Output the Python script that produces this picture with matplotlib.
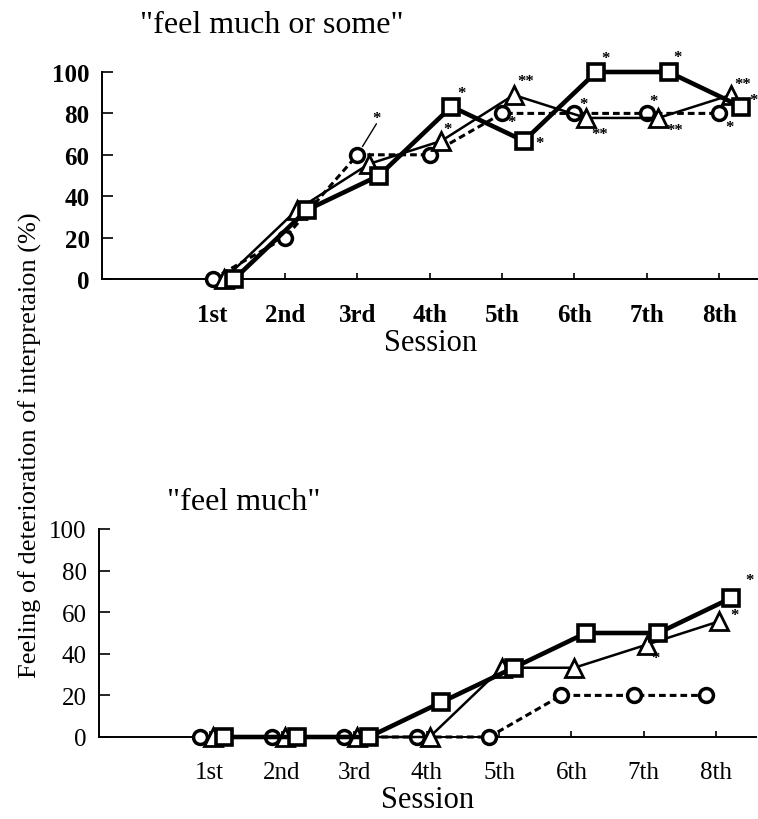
#!/usr/bin/python
# feeling of deterioration of interpretation by session -- two panel line chart

import matplotlib
matplotlib.use('Agg')
import matplotlib.pyplot as plt
import numpy as np

plt.rcParams['font.family'] = ['Liberation Serif', 'DejaVu Serif']

# ----------------------------------------------------------------------
# data (percent)
# ----------------------------------------------------------------------
sessions = ['1st', '2nd', '3rd', '4th', '5th', '6th', '7th', '8th']

# "feel much or some"
some_circle = [0, 20, 60, 60, 80, 80, 80, 80]
some_triangle = [0, 33.3, 55.6, 66.7, 88.9, 77.8, 77.8, 88.9]
some_square = [0, 33.3, 50, 83.3, 66.7, 100, 100, 83.3]

# "feel much"
much_circle = [0, 0, 0, 0, 0, 20, 20, 20]
much_triangle = [0, 0, 0, 0, 33.3, 33.3, 44.4, 55.6]
much_square = [0, 0, 0, 16.7, 33.3, 50, 50, 66.7]

# significance marks
some_circle_sig = ['', '', '*', '', '*', '*', '*', '*']
some_triangle_sig = ['', '', '', '*', '**', '**', '**', '**']
some_square_sig = ['', '', '', '*', '*', '*', '*', '*']
much_circle_sig = ['', '', '', '', '', '', '', '']
much_triangle_sig = ['', '', '', '', '', '', '*', '*']
much_square_sig = ['', '', '', '', '', '', '', '*']

# ----------------------------------------------------------------------
# layout
# ----------------------------------------------------------------------
# offsets (pixels) of the significance marks from their marker
SIGOFF = {
    ('some', 'circle'): {2: (19, 37), 4: (9, -9), 5: (9, 9), 6: (7, 12), 7: (10, -14)},
    ('some', 'triangle'): {3: (6, 12), 4: (12, 14), 5: (14, -16), 6: (16, -12), 7: (12, 11)},
    ('some', 'square'): {3: (10, 14), 4: (16, -2), 5: (9, 14), 6: (9, 15), 7: (13, 7)},
    ('much', 'circle'): {},
    ('much', 'triangle'): {6: (9, -13), 7: (15, 6)},
    ('much', 'square'): {7: (19, 18)},
}

STYLE = {
    'circle': dict(marker='o', ms=10, mew=2.5, lw=2.2, ls=(0, (2.2, 1.3)), zorder=3),
    'triangle': dict(marker='^', ms=13, mew=2.0, lw=1.8, ls='-', zorder=4),
    'square': dict(marker='s', ms=11, mew=2.6, lw=3.3, ls='-', zorder=5),
}

W, H = 758, 820


#----------------------------------------------------------------------
def drawpanel(ax, key, series, offsets, tickweight):
#----------------------------------------------------------------------
    x = np.arange(1, len(sessions) + 1)
    for name, vals, sig in series:
        xs = x + offsets[name]
        ax.plot(xs, vals, color='black', mfc='white', mec='black',
                clip_on=False, **STYLE[name])
        for i, s in enumerate(sig):
            if not s:
                continue
            dx, dy = SIGOFF[(key, name)][i]
            if key == 'some' and name == 'circle' and i == 2:
                # leader line from the marker to its star
                ax.annotate('', xy=(xs[i], vals[i]), xytext=(dx, dy - 6),
                            textcoords='offset pixels', xycoords='data',
                            arrowprops=dict(arrowstyle='-', lw=1.0, color='black',
                                            shrinkA=0, shrinkB=7),
                            annotation_clip=False)
            ax.annotate(s, xy=(xs[i], vals[i]), xytext=(dx, dy),
                        textcoords='offset pixels', ha='center', va='center',
                        fontsize=12, fontweight='bold', zorder=10,
                        annotation_clip=False)

    ax.set_ylim(0, 100)
    ax.set_xlim(-0.53, 8.55)
    ax.set_yticks(range(0, 101, 20))
    ax.set_xticks(x)
    ax.set_xticklabels(sessions, fontsize=18, fontweight=tickweight)
    for lab in ax.get_yticklabels():
        lab.set_fontsize(18)
        lab.set_fontweight(tickweight)
    ax.tick_params(axis='x', direction='in', length=4, width=1.2, pad=17)
    ax.tick_params(axis='y', direction='in', length=8, width=1.2, pad=9)
    ax.spines['top'].set_visible(False)
    ax.spines['right'].set_visible(False)
    for sp in ('left', 'bottom'):
        ax.spines[sp].set_linewidth(1.4)
    ax.set_xlabel('Session', fontsize=22, labelpad=2)


#----------------------------------------------------------------------
def main():
#----------------------------------------------------------------------
    fig = plt.figure(figsize=(W / 100, H / 100), dpi=100)

    # top panel: "feel much or some"
    ax1 = fig.add_axes([102 / W, 1 - 280 / H, 657 / W, 207 / H])
    drawpanel(ax1, 'some',
              [('circle', some_circle, some_circle_sig),
               ('triangle', some_triangle, some_triangle_sig),
               ('square', some_square, some_square_sig)],
              {'circle': 0.0, 'triangle': 0.16, 'square': 0.3}, 'bold')

    # bottom panel: "feel much"
    ax2 = fig.add_axes([99 / W, 1 - 738 / H, 657 / W, 208 / H])
    drawpanel(ax2, 'much',
              [('circle', much_circle, much_circle_sig),
               ('triangle', much_triangle, much_triangle_sig),
               ('square', much_square, much_square_sig)],
              {'circle': -0.14, 'triangle': 0.04, 'square': 0.2}, 'normal')

    # titles and shared y label
    fig.text(140 / W, 1 - 33 / H, '"feel much or some"', fontsize=23, va='baseline')
    fig.text(167 / W, 1 - 510 / H, '"feel much"', fontsize=23, va='baseline')
    fig.text(30 / W, 1 - 445 / H, 'Feeling of deterioration of interpretaion (%)',
             fontsize=19, rotation=90, ha='center', va='center')

    fig.savefig('out.png', dpi=100)


if __name__ == "__main__":
    main()
